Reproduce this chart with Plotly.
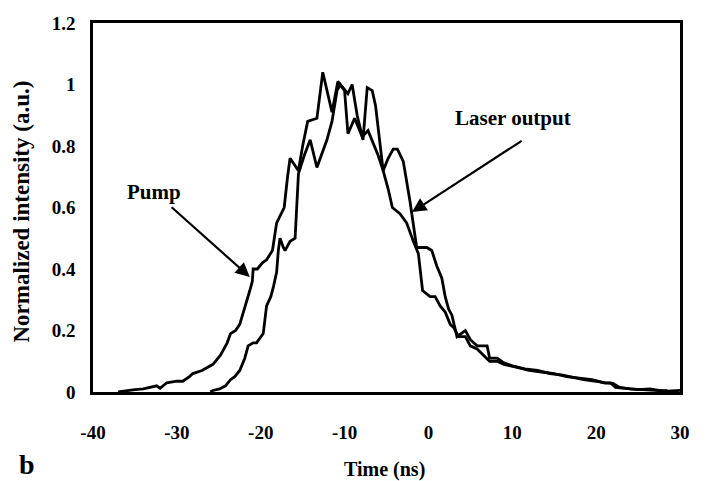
import plotly.graph_objects as go

# Pump pulse (ns, normalized intensity)
pump_t = [-37, -36, -35, -34, -33, -32.4, -32, -31.2, -30, -29.3, -28.5, -28.1, -27, -25.7, -24.8, -24, -23.6, -23,
          -22.5, -21.8, -21.3, -21.0, -20.9, -20.4, -19.8, -19.3, -18.6, -18.1, -17.7, -17.2, -16.8, -16.5, -15.5,
          -15.0, -14.4, -13.3, -12.6, -11.5, -10.8, -10.0, -9.6, -8.8, -7.9, -7.2, -6.0, -5.4, -4.8, -4.3, -3.4,
          -2.6, -1.8, -1.2, -0.7, 0.2, 0.8, 1.4, 2.0, 2.6, 3.0, 3.6, 4.4, 5.0, 5.8, 6.5, 7.3, 8.2, 9.0, 10.6, 12.0,
          13.5, 15.0, 16.5, 18.0, 19.5, 21.0, 22.0, 22.8, 24.0, 25.5, 27.0, 28.5, 30]
pump_i = [0, 0.005, 0.008, 0.01, 0.015, 0.02, 0.012, 0.03, 0.035, 0.035, 0.05, 0.06, 0.07, 0.09, 0.12, 0.16, 0.19, 0.2,
          0.22, 0.28, 0.33, 0.36, 0.40, 0.40, 0.42, 0.43, 0.46, 0.55, 0.57, 0.60, 0.70, 0.76, 0.72,
          0.80, 0.88, 0.89, 1.04, 0.91, 1.01, 0.98, 0.84, 0.89, 0.83, 0.85, 0.77, 0.72, 0.66, 0.60, 0.58,
          0.55, 0.49, 0.45, 0.33, 0.31, 0.31, 0.28, 0.26, 0.22, 0.21, 0.18, 0.18, 0.15, 0.14, 0.12, 0.10, 0.10, 0.09,
          0.08, 0.07, 0.065, 0.06, 0.05, 0.045, 0.04, 0.03, 0.028, 0.015, 0.01, 0.008, 0.005, 0.003, 0.005]

# Laser output pulse
laser_t = [-26, -25.7, -24.9, -24.2, -23.6, -23.1, -22.5, -21.9, -21.5, -20.9, -20.5, -20.0, -19.7, -19.3, -18.8,
           -18.5, -18.1, -17.9, -17.7, -17.3, -17.1, -16.5, -15.9, -15.5, -14.8, -14.1, -13.3, -12.1, -11.5, -10.9,
           -10.5, -9.6, -9.1, -8.5, -7.8, -7.3, -6.7, -6.3, -6.0, -5.4, -4.8, -4.2, -3.7, -3.0, -2.2, -1.8, -1.4,
           -0.8, -0.2, 0.4, 1.0, 1.6, 2.0, 2.4, 2.8, 3.4, 3.9, 4.4, 5.0, 5.8, 7.0, 7.3, 8.2, 9.0, 10.0, 11.5, 13.0,
           14.5, 16.0, 17.5, 18.5, 20.0, 21.0, 21.7, 22.3, 23.5, 25.0, 26.4, 27.5, 28.5]
laser_i = [0, 0.005, 0.01, 0.02, 0.04, 0.05, 0.07, 0.11, 0.15, 0.16, 0.16, 0.18, 0.19, 0.28, 0.31,
           0.34, 0.39, 0.46, 0.50, 0.47, 0.46, 0.49, 0.50, 0.71, 0.77, 0.82, 0.73, 0.82, 0.88, 0.98,
           1.0, 0.97, 1.00, 0.90, 0.82, 0.99, 0.98, 0.93, 0.86, 0.72, 0.76, 0.79, 0.79, 0.75, 0.62, 0.55, 0.47,
           0.47, 0.47, 0.46, 0.41, 0.37, 0.31, 0.27, 0.25, 0.18, 0.19, 0.20, 0.17, 0.15, 0.15, 0.11, 0.11, 0.095,
           0.085, 0.075, 0.07, 0.06, 0.055, 0.045, 0.04, 0.035, 0.03, 0.03, 0.015, 0.012, 0.008, 0.01, 0.005, 0.004]

x_ticks = [-40, -30, -20, -10, 0, 10, 20, 30]
x_tick_text = ["-40", "-30", "-20", "-10", "0", "10", "20", "30"]
y_ticks = [0, 0.2, 0.4, 0.6, 0.8, 1, 1.2]
y_tick_text = ["0", "0.2", "0.4", "0.6", "0.8", "1", "1.2"]

serif = "Liberation Serif"

fig = go.Figure()
fig.add_trace(go.Scatter(x=pump_t, y=pump_i, mode="lines", line=dict(color="black", width=2.8),
                         name="Pump", showlegend=False))
fig.add_trace(go.Scatter(x=laser_t, y=laser_i, mode="lines", line=dict(color="black", width=2.8),
                         name="Laser output", showlegend=False))

fig.update_layout(
    width=712, height=481,
    margin=dict(l=93, r=32, t=23, b=89),
    paper_bgcolor="white", plot_bgcolor="white",
    font=dict(family=serif, color="black"),
    xaxis=dict(range=[-40, 30], tickvals=x_ticks, ticktext=x_tick_text, showgrid=False, zeroline=False,
               showline=True, linecolor="black", linewidth=2.5, mirror=True, ticks="",
               ticklabelstandoff=21,
               tickfont=dict(family=serif, size=19, color="black", weight="bold")),
    yaxis=dict(range=[0, 1.2], tickvals=y_ticks, ticktext=y_tick_text, showgrid=False, zeroline=False,
               showline=True, linecolor="black", linewidth=2.5, mirror=True, ticks="",
               ticklabelstandoff=11,
               tickfont=dict(family=serif, size=19, color="black", weight="bold")),
)

# axis titles
fig.add_annotation(x=0.496, y=-0.209, xref="paper", yref="paper", showarrow=False,
                   xanchor="center", yanchor="middle",
                   text="<b>Time (ns)</b>", font=dict(family=serif, size=20, color="black"))
fig.add_annotation(x=-0.122, y=0.49, xref="paper", yref="paper", showarrow=False, textangle=-90,
                   xanchor="center", yanchor="middle",
                   text="<b>Normalized intensity (a.u.)</b>", font=dict(family=serif, size=23, color="black"))

# arrows and labels
fig.add_annotation(x=-21.3, y=0.374, ax=-30.8, ay=0.605, xref="x", yref="y", axref="x", ayref="y",
                   showarrow=True, arrowhead=2, arrowsize=1.3, arrowwidth=2.2, arrowcolor="black", text="")
fig.add_annotation(x=-1.96, y=0.585, ax=11.3, ay=0.82, xref="x", yref="y", axref="x", ayref="y",
                   showarrow=True, arrowhead=2, arrowsize=1.3, arrowwidth=2.2, arrowcolor="black", text="")
fig.add_annotation(x=-32.7, y=0.65, xref="x", yref="y", showarrow=False,
                   text="<b>Pump</b>", font=dict(family=serif, size=21, color="black"))
fig.add_annotation(x=10.1, y=0.891, xref="x", yref="y", showarrow=False,
                   text="<b>Laser output</b>", font=dict(family=serif, size=21, color="black"))

# panel letter
fig.add_annotation(x=-0.129, y=-0.197, xref="paper", yref="paper", showarrow=False,
                   xanchor="left", yanchor="middle",
                   text="<b>b</b>", font=dict(family=serif, size=28, color="black"))

fig.write_html("out.html")
